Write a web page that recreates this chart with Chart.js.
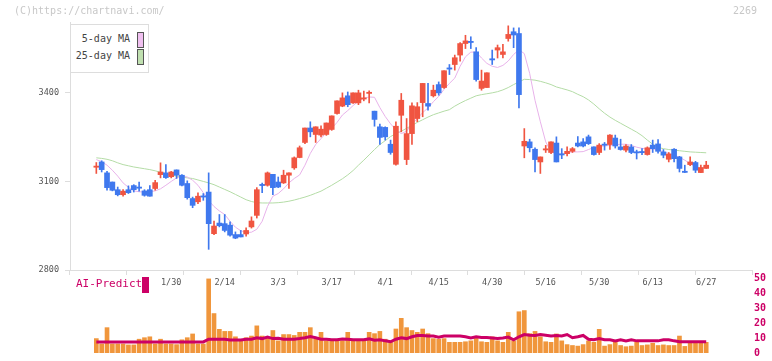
<!DOCTYPE html>
<html lang="ja">
<head>
<meta charset="UTF-8">
<title>2269</title>
<style>
    body { margin: 0; background: white; }
    #wrap { position: relative; width: 772px; height: 361px; overflow: hidden; font-family: "DejaVu Sans Mono", monospace; }
    canvas { position: absolute; left: 0; }
    #priceChart { top: 0; }
    #volChart { top: 270px; }
    .txt { position: absolute; white-space: nowrap; }
    #copy { left: 14px; top: 5px; font-size: 10px; color: #c8c8c8; }
    #code { left: 733px; top: 5px; font-size: 10px; color: #c8c8c8; }
    #legend { left: 70px; top: 24px; width: 77px; height: 47px; border: 1px solid #ddd; background: white; }
    .lg { position: absolute; right: 18px; font-size: 10px; color: #444; }
    .sw { position: absolute; left: 66px; width: 5px; height: 14px; border: 1px solid #555; }
    #ai { left: 76px; top: 277px; font-size: 11px; color: #cc0066; }
    #aibox { left: 142px; top: 277px; width: 7px; height: 16px; background: #cc0066; }
</style>
</head>
<body>
<div id="wrap">
    <canvas id="priceChart" width="772" height="300"></canvas>
    <canvas id="volChart" width="772" height="91"></canvas>
    <div class="txt" id="copy">(C)https://chartnavi.com/</div>
    <div class="txt" id="code">2269</div>
    <div class="txt" id="legend">
        <span class="lg" style="top:8px">5-day MA</span>
        <span class="sw" style="top:7px;background:#f0c0f0"></span>
        <span class="lg" style="top:25px">25-day MA</span>
        <span class="sw" style="top:24px;background:#c0e0b0"></span>
    </div>
    <div class="txt" id="ai">AI-Predict</div>
    <div class="txt" id="aibox"></div>
</div>

<script src="https://cdn.jsdelivr.net/npm/chart.js"></script>
<script>
    // daily candles, oldest first (115 trading days)
    const openP = [3148,3166,3129,3098,3072,3055,3072,3086,3081,3068,3072,3076,3123,3129,3116,3139,3121,3093,3042,3031,
        3051,3064,2923,2959,2957,2952,2920,2920,2922,2946,2985,3090,3087,3124,3098,3095,3121,3146,3181,3232,
        3281,3259,3257,3259,3276,3330,3355,3390,3366,3366,3379,3398,3338,3285,3283,3226,3158,3324,3174,3262,
        3313,3367,3364,3390,3428,3418,3484,3496,3528,3567,3574,3539,3415,3418,3515,3545,3530,3584,3607,3601,
        3220,3234,3209,3166,3207,3198,3230,3193,3194,3202,3230,3234,3251,3217,3198,3226,3225,3247,3217,3206,
        3217,3200,3201,3191,3223,3227,3200,3175,3209,3183,3134,3157,3164,3130,3144];
    const highP = [3164,3170,3134,3098,3081,3072,3085,3089,3098,3072,3086,3104,3163,3157,3134,3139,3123,3102,3047,3061,
        3059,3129,2966,2988,2988,2963,2929,2934,2943,2980,3079,3094,3132,3124,3115,3138,3129,3183,3220,3281,
        3302,3285,3288,3298,3322,3373,3400,3403,3400,3409,3406,3407,3338,3294,3285,3240,3302,3398,3313,3366,
        3367,3432,3432,3426,3437,3475,3496,3528,3570,3595,3590,3553,3477,3468,3545,3562,3564,3627,3620,3620,
        3279,3243,3214,3183,3222,3234,3251,3211,3217,3215,3252,3245,3257,3217,3228,3232,3259,3257,3243,3225,
        3225,3206,3211,3217,3240,3242,3208,3198,3211,3185,3155,3183,3168,3155,3168];
    const lowP = [3127,3132,3070,3068,3051,3050,3059,3064,3067,3050,3050,3070,3112,3110,3112,3110,3085,3040,3011,3025,
        3036,2870,2920,2946,2929,2915,2906,2912,2915,2942,2976,3062,3084,3055,3079,3093,3076,3141,3180,3228,
        3251,3232,3251,3256,3273,3328,3353,3353,3364,3360,3373,3366,3287,3225,3240,3192,3155,3268,3157,3225,
        3302,3319,3341,3386,3392,3415,3462,3477,3507,3550,3550,3440,3409,3418,3496,3518,3518,3575,3553,3349,
        3180,3200,3132,3127,3198,3194,3166,3177,3186,3198,3217,3217,3225,3189,3191,3206,3208,3213,3206,3200,
        3194,3176,3191,3189,3198,3196,3180,3166,3166,3132,3130,3153,3130,3130,3144];
    const closeP = [3152,3140,3079,3070,3055,3067,3062,3072,3077,3053,3050,3096,3132,3113,3132,3121,3087,3045,3019,3050,
        3047,2957,2949,2950,2934,2918,2908,2912,2934,2966,3072,3086,3129,3079,3081,3121,3129,3180,3214,3281,
        3268,3285,3277,3298,3322,3373,3383,3360,3400,3400,3383,3402,3310,3249,3251,3198,3287,3375,3262,3356,
        3353,3432,3355,3409,3400,3475,3481,3519,3567,3576,3571,3445,3440,3468,3512,3553,3539,3598,3596,3394,
        3236,3214,3174,3183,3210,3234,3166,3190,3202,3211,3220,3220,3228,3191,3223,3223,3257,3220,3208,3220,
        3198,3197,3198,3214,3211,3202,3189,3193,3177,3144,3131,3166,3138,3147,3155];
    const ma5 = [3174,3167,3155,3138,3118,3095,3080,3068,3065,3064,3065,3068,3075,3087,3100,3112,3118,3115,3104,3087,
        3062,3035,3015,3000,2988,2965,2945,2933,2927,2928,2938,2965,3015,3050,3059,3075,3095,3110,3122,3155,
        3195,3225,3245,3265,3280,3300,3325,3340,3357,3372,3382,3386,3385,3350,3320,3295,3275,3262,3270,3295,
        3313,3333,3349,3370,3388,3412,3432,3450,3490,3522,3538,3538,3518,3500,3490,3486,3493,3508,3530,3546,
        3533,3466,3375,3302,3234,3200,3194,3192,3198,3200,3200,3201,3208,3215,3219,3220,3222,3224,3226,3226,
        3222,3216,3212,3210,3210,3207,3200,3195,3189,3182,3172,3160,3148,3146,3150];
    const ma25 = [3180,3178,3175,3170,3163,3157,3153,3149,3146,3143,3140,3136,3131,3126,3122,3118,3115,3112,3110,3105,
        3100,3095,3089,3081,3073,3065,3056,3047,3038,3032,3028,3027,3027,3027,3028,3030,3033,3037,3042,3047,
        3053,3060,3067,3077,3087,3098,3109,3122,3137,3155,3172,3190,3208,3225,3238,3252,3262,3270,3280,3290,
        3300,3309,3318,3326,3332,3338,3343,3355,3365,3374,3382,3390,3394,3397,3400,3404,3410,3418,3428,3437,
        3446,3445,3443,3439,3434,3428,3420,3415,3410,3404,3395,3387,3376,3362,3346,3331,3318,3307,3297,3287,
        3277,3267,3255,3240,3226,3215,3211,3208,3206,3204,3202,3200,3199,3198,3197];
    const volume = [9.6,6.0,16.9,6.0,6.0,6.0,5.4,5.4,9.2,10.2,10.8,6.0,9.2,6.0,6.0,5.6,8.8,10.2,12.7,6.0,
        6.0,49.4,26.3,15.8,14.4,14.4,10.8,8.8,10.2,11.3,18.1,11.3,10.2,15.0,8.1,12.3,12.3,11.7,13.8,13.8,
        16.9,9.2,13.8,8.1,8.1,8.1,8.1,13.8,8.1,8.1,8.1,13.8,12.9,14.4,9.2,8.1,16.0,23.1,16.9,15.0,
        13.8,16.0,12.9,9.6,9.2,9.6,7.1,7.1,7.1,7.5,8.1,10.8,7.5,7.1,10.8,8.1,7.1,13.8,8.1,27.5,
        28.3,12.9,14.4,10.8,7.5,7.1,12.7,8.1,5.6,5.0,4.6,5.6,8.1,7.1,15.8,4.6,5.6,7.1,5.0,4.2,
        4.6,7.1,5.0,5.4,6.5,5.0,5.4,5.0,5.0,11.3,4.4,7.1,7.1,7.1,7.1];
    const aiPredict = [7.4,7.4,7.4,7.4,7.4,7.4,7.4,7.4,7.4,7.4,7.4,7.4,7.4,7.4,7.4,7.4,7.4,7.4,7.4,7.4,
        7.4,9.2,9.2,9.2,9.2,8.7,8.6,8.6,9.2,9.2,10.2,9.6,10.6,9.6,9.8,9.2,9.2,9.2,9.6,10.2,
        11.0,10.2,9.2,9.2,8.8,8.8,9.4,9.2,8.8,8.8,8.8,9.4,8.5,8.8,8.1,7.5,9.2,10.2,9.6,10.8,
        11.7,11.7,11.3,11.3,10.6,11.3,11.3,11.3,11.3,10.8,10.0,10.8,10.4,10.4,10.0,9.6,10.0,10.6,8.8,10.8,
        12.3,11.9,11.7,12.3,11.9,11.3,11.7,11.3,12.3,10.2,10.8,11.7,9.2,8.8,9.6,8.8,8.8,8.1,8.8,8.1,
        8.8,8.1,8.1,8.1,8.1,8.1,8.8,8.8,8.1,7.5,7.5,7.5,7.5,7.5,7.5];

    const tickIndex = [14, 24, 34, 44, 54, 64, 74, 84, 94, 104, 114];
    const tickLabels = ['1/30', '2/14', '3/3', '3/17', '4/1', '4/15', '4/30', '5/16', '5/30', '6/13', '6/27'];
    const priceTicks = [2800, 3100, 3400];

    const UP = '#f05541';
    const DOWN = '#3f78ee';
    const xMin = -4.92, xMax = 122.56;
    const mono = 'DejaVu Sans Mono';

    const idx = closeP.map((_, i) => i);
    const candleColor = idx.map(i => closeP[i] >= openP[i] ? UP : DOWN);

    // keep doji bodies visible as a thin bar
    const bodies = idx.map(i => {
        let a = openP[i], b = closeP[i];
        if (Math.abs(a - b) < 4) { const m = (a + b) / 2; a = m - 2; b = m + 2; }
        return { x: i, y: [a, b] };
    });

    new Chart(document.getElementById('priceChart'), {
        type: 'bar',
        data: {
            datasets: [
                { type: 'bar', data: bodies, backgroundColor: candleColor, barThickness: 5, grouped: false, order: 0 },
                { type: 'bar', data: idx.map(i => ({ x: i, y: [lowP[i], highP[i]] })), backgroundColor: candleColor,
                  barThickness: 1, grouped: false, order: 1 },
                { type: 'line', data: idx.map(i => ({ x: i, y: ma5[i] })), borderColor: '#e8b2ea', borderWidth: 1,
                  pointRadius: 0, tension: 0, order: 2 },
                { type: 'line', data: idx.map(i => ({ x: i, y: ma25[i] })), borderColor: '#b4dca6', borderWidth: 1,
                  pointRadius: 0, tension: 0, order: 3 }
            ]
        },
        options: {
            responsive: false,
            animation: false,
            layout: { padding: { left: 0, right: 20, top: 22, bottom: 0 } },
            plugins: { legend: { display: false }, tooltip: { enabled: false } },
            scales: {
                x: {
                    type: 'linear', min: xMin, max: xMax, offset: false,
                    afterBuildTicks: s => { s.ticks = tickIndex.map(v => ({ value: v })); },
                    afterFit: s => { s.height = 30; },
                    ticks: {
                        autoSkip: false, maxRotation: 0, padding: 8, color: '#555',
                        font: { family: mono, size: 8.5 },
                        callback: v => tickLabels[tickIndex.indexOf(v)]
                    },
                    grid: { display: false, drawTicks: false },
                    border: { display: true, color: '#ddd' }
                },
                xt: {
                    type: 'linear', min: 0, max: 11, position: { y: 2800 },
                    ticks: { display: false, stepSize: 1 },
                    grid: { drawOnChartArea: false, drawTicks: true, tickLength: 5, color: '#ddd' },
                    border: { display: false }
                },
                y: {
                    min: 2800, max: 3640,
                    afterBuildTicks: s => { s.ticks = priceTicks.map(v => ({ value: v })); },
                    afterFit: s => { s.width = 70; },
                    ticks: { padding: 6, color: '#555', font: { family: mono, size: 8.5 }, callback: v => String(v) },
                    grid: { drawOnChartArea: false, tickLength: 5, color: '#ddd' },
                    border: { color: '#ddd' }
                }
            }
        }
    });

    new Chart(document.getElementById('volChart'), {
        type: 'bar',
        data: {
            datasets: [
                { type: 'line', data: idx.map(i => ({ x: i, y: aiPredict[i] })), borderColor: '#cc0066', borderWidth: 3,
                  pointRadius: 0, tension: 0, order: 0 },
                { type: 'bar', data: idx.map(i => ({ x: i, y: volume[i] })), backgroundColor: '#f0963c',
                  barThickness: 4, grouped: false, order: 1 }
            ]
        },
        options: {
            responsive: false,
            animation: false,
            layout: { padding: { left: 70, right: 0, top: 8, bottom: 3 } },
            plugins: { legend: { display: false }, tooltip: { enabled: false } },
            scales: {
                x: { type: 'linear', min: xMin, max: xMax, offset: false, display: false },
                y: {
                    position: 'right', min: 0, max: 50,
                    afterFit: s => { s.width = 20; },
                    ticks: { stepSize: 10, padding: 2, color: '#cc0066', font: { family: mono, size: 10, weight: 'bold' },
                             callback: v => String(v) },
                    grid: { display: false, drawTicks: false },
                    border: { display: false }
                }
            }
        }
    });
</script>
</body>
</html>
